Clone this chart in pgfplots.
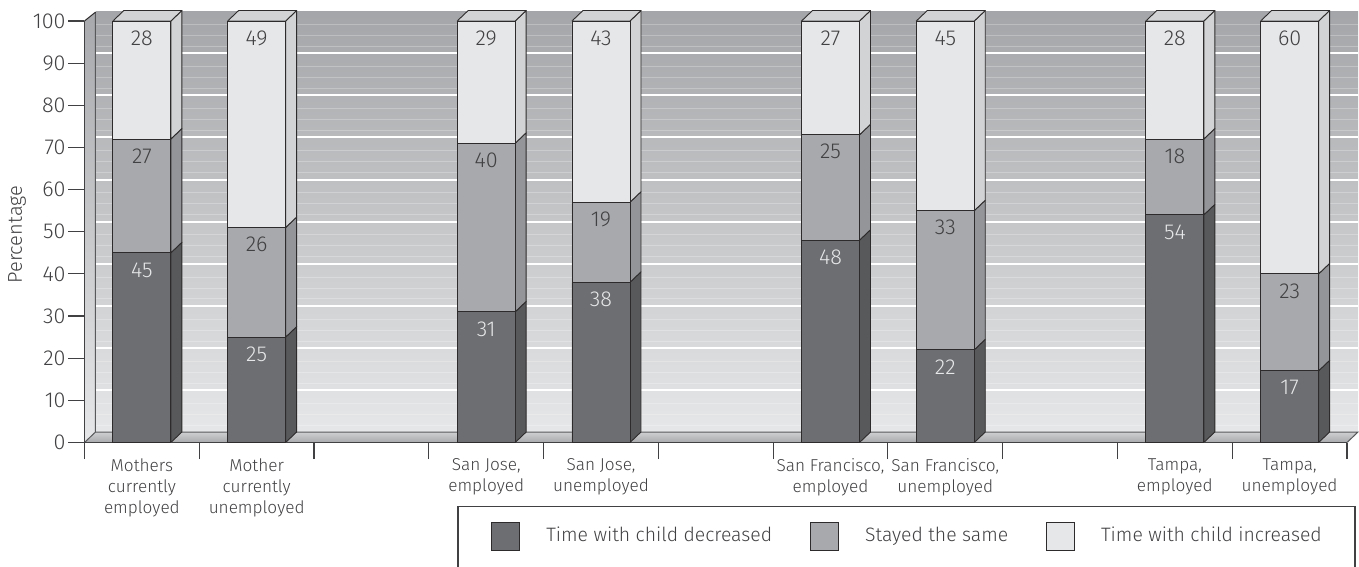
\documentclass[border=0pt]{standalone}
\usepackage{fontspec}
\setmainfont{Fira Sans}[UprightFont=* Light]
\usepackage{pgfplots}
\usepackage{pgfplotstable}
\pgfplotsset{compat=1.18}
\definecolor{txt}{HTML}{414042}
\definecolor{edge}{HTML}{2E2B2C}
\definecolor{cdark}{HTML}{6D6E71}
\definecolor{cmid}{HTML}{A7A9AC}
\definecolor{clight}{HTML}{E6E7E8}
\definecolor{sdark}{HTML}{58595B}
\definecolor{smid}{HTML}{939598}
\definecolor{slight}{HTML}{D1D3D4}
\pgfplotstableread{
x dec same inc
0 45 27 28
1 25 26 49
3 31 40 29
4 38 19 43
6 48 25 27
7 22 33 45
9 54 18 28
10 17 23 60
}\datatable
\newcommand\face[5]{% x1 x2 y1 y2 colour: side face
  \pgfmathsetmacro\xa{#1+0.2526}\pgfmathsetmacro\xb{\xa+0.0958}
  \pgfmathsetmacro\ya{#2}\pgfmathsetmacro\yb{#2+#3}
  \pgfmathsetmacro\yc{\ya+2.49}\pgfmathsetmacro\yd{\yb+2.49}
  \edef\temp{\noexpand\addplot[fill=#4,draw=edge,line width=0.45pt,line join=round,forget plot]
    coordinates {(\xa,\ya)(\xb,\yc)(\xb,\yd)(\xa,\yb)} -- cycle;}\temp}
\newcommand\barfaces[4]{% x dec same inc
  \face{#1}{0}{#2}{sdark}{}%
  \face{#1}{#2}{#3}{smid}{}%
  \pgfmathsetmacro\bs{#2+#3}\face{#1}{\bs}{#4}{slight}{}%
  \pgfmathsetmacro\xl{#1-0.2526}\pgfmathsetmacro\xr{#1+0.2526}
  \pgfmathsetmacro\xp{\xl+0.0958}\pgfmathsetmacro\xq{\xr+0.0958}
  \pgfmathsetmacro\yt{#2+#3+#4}\pgfmathsetmacro\yu{\yt+2.49}
  \edef\temp{\noexpand\addplot[fill=slight,draw=edge,line width=0.45pt,line join=round,forget plot]
    coordinates {(\xl,\yt)(\xp,\yu)(\xq,\yu)(\xr,\yt)} -- cycle;}\temp}
\begin{document}
\begin{tikzpicture}
\path[use as bounding box] (0,0) rectangle (679.5pt,283.5pt);
% back wall
\begin{axis}[
  at={(47.75pt,67.25pt)},anchor=south west,scale only axis,
  width=631.25pt,height=210.25pt,
  xmin=0,xmax=1,ymin=0,ymax=99.76,
  axis on top,
  axis line style={draw=none},
  xtick=\empty,
  ytick={10,20,...,90},
  minor ytick={1.7,4.3,6.9,11.7,14.3,16.9,21.7,24.3,26.9,31.7,34.3,36.9,41.7,44.3,46.9,51.7,54.3,56.9,61.7,64.3,66.9,71.7,74.3,76.9,81.7,84.3,86.9,91.7,94.3,96.9},
  yticklabels={},
  major tick length=0pt,minor tick length=0pt,
  ymajorgrids,yminorgrids,
  major grid style={white,line width=1pt},
  minor grid style={white,opacity=0.25,line width=0.4pt},
]
\addplot[draw=none,top color=cmid!98!black,bottom color=clight,forget plot] coordinates {(0,0)(1,0)(1,99.76)(0,99.76)} -- cycle;
\end{axis}
% walls, floor and the side and top faces of the bars
\begin{axis}[
  at={(42.25pt,62.25pt)},anchor=south west,scale only axis,
  width=631.25pt,height=210.75pt,
  xmin=-0.5,xmax=10.5,ymin=0,ymax=100,
  clip=false,hide axis,
]
\addplot[top color=cmid,bottom color=clight,draw=none,forget plot] coordinates {(-0.5,0)(-0.4042,2.49)(-0.4042,102.1)(-0.5,100)} -- cycle;
\addplot[top color=clight!90!black,bottom color=cmid,draw=none,forget plot] coordinates {(-0.5,0)(10.5,0)(10.5958,2.49)(-0.4042,2.49)} -- cycle;
\addplot[sdark,line width=0.5pt,forget plot] coordinates {(-0.4042,102.1)(-0.4042,2.49)(10.5958,2.49)(10.5,0)};
\addplot[sdark,line width=0.5pt,forget plot] coordinates {(-0.5,0)(-0.4042,2.49)};
\addplot[edge,line width=0.5pt,forget plot] coordinates {(-0.5,100)(-0.4042,102.1)};
\barfaces{0}{45}{27}{28}
\barfaces{1}{25}{26}{49}
\barfaces{3}{31}{40}{29}
\barfaces{4}{38}{19}{43}
\barfaces{6}{48}{25}{27}
\barfaces{7}{22}{33}{45}
\barfaces{9}{54}{18}{28}
\barfaces{10}{17}{23}{60}
\end{axis}
% front of the bars, axes, labels, legend
\begin{axis}[
  at={(42.25pt,62.25pt)},anchor=south west,scale only axis,
  width=631.25pt,height=210.75pt,
  xmin=-0.5,xmax=10.5,ymin=0,ymax=100,
  ybar stacked,bar width=29pt,
  clip=false,
  axis lines*=left,
  axis line style={-,color=txt,line width=0.55pt},
  tick style={color=txt,line width=0.55pt},
  tick align=outside,major tick length=8.25pt,
  xtick={-0.5,0.5,...,10.5},
  x tick label as interval,
  xticklabels={{Mothers\\currently\\employed},{Mother\\currently\\unemployed},{},{San Jose,\\employed},{San Jose,\\unemployed},{},{San Francisco,\\employed},{San Francisco,\\unemployed},{},{Tampa,\\employed},{Tampa,\\unemployed}},
  xticklabel style={align=center,anchor=north,font=\fontsize{8.6}{10.5}\selectfont,text=txt,inner sep=0pt,yshift=0.5pt},
  ytick={0,10,...,100},
  yticklabel style={font=\fontsize{10.8}{12}\selectfont,text=txt,inner sep=0pt,xshift=-1pt},
  /pgf/number format/assume math mode=true,
  ylabel={Percentage},
  ylabel style={font=\fontsize{10}{11}\selectfont,text=txt,xshift=-1.5pt},
  nodes near coords,
  nodes near coords style={font=\fontsize{10.8}{12}\selectfont,text=txt,anchor=center,/pgf/number format/assume math mode=true,yshift=\segval*1.05375pt-8.5pt},
  legend columns=3,
  legend image code/.code={\draw[#1] (0pt,-7pt) rectangle (14pt,7pt);},
  legend style={draw=none,fill=none,at={(0.322,-0.2218)},anchor=west,
    font=\fontsize{9.7}{11}\selectfont,text=txt,inner sep=0pt,
    /tikz/column 1/.style={column sep=13pt},
    /tikz/column 2/.style={column sep=19pt},
    /tikz/column 3/.style={column sep=13pt},
    /tikz/column 4/.style={column sep=19pt},
    /tikz/column 5/.style={column sep=13pt},
    nodes={inner sep=0pt}},
]
\addplot[fill=cdark,draw=edge,line width=0.45pt,visualization depends on={\thisrow{dec}\as\segval},nodes near coords style={text=clight}] table[x=x,y=dec] {\datatable};
\addplot[fill=cmid,draw=edge,line width=0.45pt,visualization depends on={\thisrow{same}\as\segval}] table[x=x,y=same] {\datatable};
\addplot[fill=clight,draw=edge,line width=0.45pt,visualization depends on={\thisrow{inc}\as\segval}] table[x=x,y=inc] {\datatable};
\legend{Time with child decreased,Stayed the same,Time with child increased}
\end{axis}
\draw[txt,line width=0.55pt] (229pt,0pt) -- (229pt,30.25pt) -- (677.5pt,30.25pt) -- (677.5pt,0pt);
\end{tikzpicture}
\end{document}
